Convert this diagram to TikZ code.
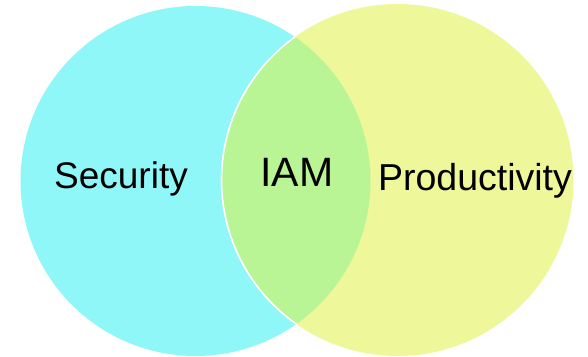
\documentclass[tikz,border=0pt]{standalone}
\usepackage{fontspec}
\setmainfont{Liberation Sans}
\definecolor{cyanfill}{HTML}{90F7F8}
\definecolor{yellowfill}{HTML}{EEF799}
\definecolor{greenfill}{HTML}{BAF595}
\begin{document}
\begin{tikzpicture}[x=1pt,y=1pt,
  lbl/.style={anchor=base,inner sep=0pt,text=black}]
\useasboundingbox (0,0) rectangle (588,356);
\coordinate (cl) at (195.5,175);
\coordinate (cr) at (397.5,176);
\fill[cyanfill] (cl) circle[radius=175];
\fill[yellowfill] (cr) circle[radius=176];
\begin{scope}
  \clip (cl) circle[radius=175];
  \fill[greenfill] (cr) circle[radius=176];
  \draw[white,line width=1.6pt] (cr) circle[radius=176];
\end{scope}
\node[lbl,font=\fontsize{37}{40}\selectfont] (sec) at (121,167) {Security};
\node[lbl,font=\fontsize{41}{46}\selectfont] (iam) at (297,169) {IAM};
\node[lbl,font=\fontsize{37.5}{40}\selectfont] (prod) at (475,165) {Productivity};
\end{tikzpicture}
\end{document}
